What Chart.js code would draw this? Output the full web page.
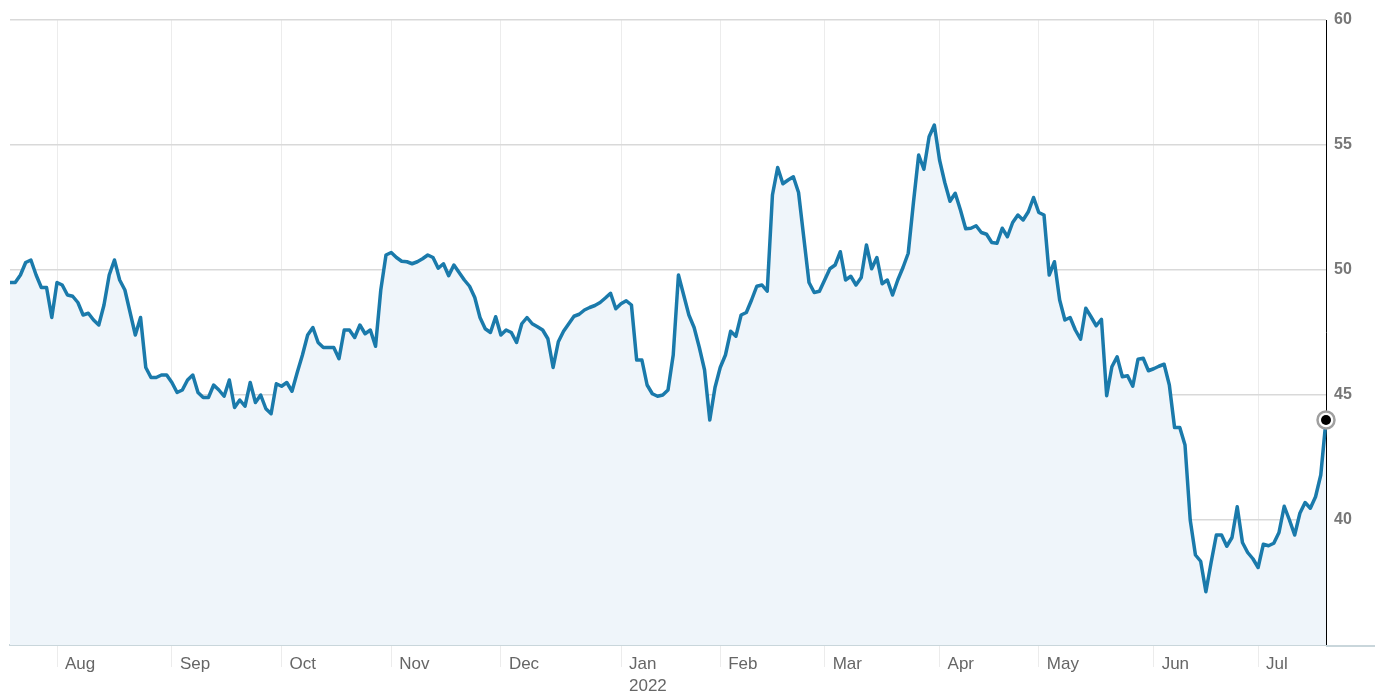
<!DOCTYPE html>
<html lang="en">
<head>
<meta charset="UTF-8">
<title>Price chart</title>
<script src="https://cdn.jsdelivr.net/npm/chart.js@4"></script>
<style>
  html, body { margin: 0; padding: 0; background: #fff; }
  #wrap { width: 1379px; height: 695px; position: relative; }
</style>
</head>
<body>
<div id="wrap"><canvas id="priceChart"></canvas></div>
<script>
// daily closes, Jul 20 2021 .. Jul 20 2022 (one per trading day)
const closes = [
  49.5, 49.5, 49.8, 50.3, 50.4, 49.8, 49.3, 49.3, 48.1, 49.5,
  49.4, 49.0, 48.95, 48.7, 48.2, 48.27, 48.0, 47.8, 48.6, 49.8,
  50.4, 49.6, 49.2, 48.3, 47.4, 48.1, 46.1, 45.7, 45.7, 45.8,
  45.8, 45.5, 45.1, 45.2, 45.6, 45.8, 45.1, 44.9, 44.9, 45.4,
  45.2, 44.95, 45.6, 44.5, 44.8, 44.55, 45.5, 44.7, 45.0, 44.45,
  44.25, 45.45, 45.35, 45.5, 45.15, 45.9, 46.6, 47.4, 47.7, 47.1,
  46.9, 46.9, 46.9, 46.45, 47.6, 47.6, 47.3, 47.8, 47.45, 47.6,
  46.95, 49.2, 50.6, 50.7, 50.5, 50.35, 50.33, 50.25, 50.33, 50.45,
  50.6, 50.5, 50.07, 50.25, 49.77, 50.2, 49.9, 49.6, 49.35, 48.9,
  48.1, 47.65, 47.5, 48.13, 47.4, 47.6, 47.5, 47.1, 47.85, 48.1,
  47.85, 47.73, 47.6, 47.25, 46.1, 47.13, 47.55, 47.85, 48.15, 48.23,
  48.4, 48.5, 48.58, 48.7, 48.88, 49.07, 48.45, 48.65, 48.77, 48.6,
  46.4, 46.4, 45.4, 45.05, 44.95, 45.0, 45.2, 46.6, 49.8, 49.0,
  48.2, 47.7, 46.9, 46.0, 44.0, 45.3, 46.1, 46.6, 47.55, 47.35,
  48.2, 48.3, 48.8, 49.35, 49.4, 49.15, 53.0, 54.1, 53.45, 53.6,
  53.73, 53.1, 51.3, 49.5, 49.1, 49.15, 49.6, 50.05, 50.2, 50.73,
  49.6, 49.75, 49.4, 49.7, 51.0, 50.05, 50.5, 49.45, 49.6, 49.0,
  49.6, 50.1, 50.67, 52.7, 54.6, 54.03, 55.33, 55.8, 54.4, 53.5,
  52.75, 53.07, 52.4, 51.65, 51.67, 51.77, 51.5, 51.43, 51.1, 51.07,
  51.67, 51.33, 51.9, 52.2, 52.0, 52.33, 52.9, 52.3, 52.2, 49.8,
  50.33, 48.8, 48.0, 48.1, 47.6, 47.23, 48.47, 48.13, 47.77, 48.03,
  44.97, 46.13, 46.53, 45.73, 45.77, 45.35, 46.43, 46.47, 45.97, 46.05,
  46.15, 46.23, 45.4, 43.7, 43.7, 43.0, 40.0, 38.6, 38.35, 37.13,
  38.3, 39.4, 39.4, 38.95, 39.3, 40.53, 39.1, 38.7, 38.45, 38.1,
  39.03, 38.97, 39.07, 39.5, 40.55, 40.0, 39.4, 40.27, 40.7, 40.47,
  40.93, 41.8, 44.0
]

// index of first trading day of each month
const monthStarts = [9, 31, 52, 73, 94, 117, 136, 156, 178, 197, 219, 239]
const monthLabels = ["Aug", "Sep", "Oct", "Nov", "Dec", ["Jan", "2022"], "Feb", "Mar", "Apr", "May", "Jun", "Jul"]

const yTicks = [40, 45, 50, 55, 60]
const yMin = 35
const yMax = 60

const lineColor = "#1a7aab"
const fillColor = "#eff5fa"
const labelFont = "'Liberation Sans Narrow', 'Arial Narrow', 'Liberation Sans', Arial, sans-serif"

// ring marker on the last close + axis line running past the right axis
const lastPointPlugin = {
  id: "lastPoint",
  afterDatasetsDraw(chart) {
    const meta = chart.getDatasetMeta(0)
    const pt = meta.data[meta.data.length - 1]
    const ctx = chart.ctx
    ctx.save()
    ctx.beginPath()
    ctx.arc(pt.x, pt.y, 8.5, 0, Math.PI * 2)
    ctx.fillStyle = "#fff"
    ctx.fill()
    ctx.lineWidth = 2.5
    ctx.strokeStyle = "#a0a0a0"
    ctx.stroke()
    ctx.beginPath()
    ctx.arc(pt.x, pt.y, 5, 0, Math.PI * 2)
    ctx.fillStyle = "#000"
    ctx.fill()
    ctx.restore()
  },
  afterDraw(chart) {
    const { ctx, chartArea } = chart
    ctx.save()
    ctx.strokeStyle = "#c9d6db"
    ctx.lineWidth = 2
    ctx.beginPath()
    ctx.moveTo(chartArea.right, chartArea.bottom + 1)
    ctx.lineTo(chart.width - 4, chartArea.bottom + 1)
    ctx.stroke()
    ctx.restore()
  },
}

const ctx = document.getElementById("priceChart").getContext("2d")
const priceChart = new Chart(ctx, {
  type: "line",
  data: {
    datasets: [
      {
        data: closes.map((v, i) => ({ x: i, y: v })),
        borderColor: lineColor,
        borderWidth: 3.5,
        backgroundColor: fillColor,
        fill: "start",
        tension: 0,
        pointRadius: 0,
        borderJoinStyle: "round",
        clip: false,
      },
    ],
  },
  options: {
    responsive: true,
    maintainAspectRatio: false,
    animation: false,
    layout: { padding: { left: 10, top: 20, right: 0, bottom: 0 } },
    plugins: {
      legend: { display: false },
      tooltip: { enabled: false },
    },
    scales: {
      x: {
        type: "linear",
        min: 0,
        max: closes.length - 1,
        afterBuildTicks: (scale) => {
          scale.ticks = monthStarts.map((v) => ({ value: v }))
        },
        afterFit: (scale) => {
          scale.height = 50
        },
        grid: {
          color: "#ececec",
          lineWidth: 1,
          drawTicks: true,
          tickLength: 22,
          tickColor: "#ececec",
        },
        border: { color: "#c9d6db", width: 2 },
        ticks: {
          autoSkip: false,
          maxRotation: 0,
          align: "start",
          labelOffset: 8,
          padding: -13,
          color: "#666",
          font: { family: labelFont, size: 17, lineHeight: 1.25 },
          callback: (value) => {
            const k = monthStarts.indexOf(value)
            return k >= 0 ? monthLabels[k] : ""
          },
        },
      },
      y: {
        position: "right",
        min: yMin,
        max: yMax,
        afterBuildTicks: (scale) => {
          scale.ticks = [yMin].concat(yTicks).map((v) => ({ value: v }))
        },
        afterFit: (scale) => {
          scale.width = 53
        },
        grid: {
          color: "#d9d9d9",
          lineWidth: 1.5,
          drawTicks: false,
        },
        border: { color: "#000", width: 1 },
        ticks: {
          padding: 8,
          color: "#777",
          font: { family: labelFont, size: 16, weight: "bold" },
          callback: (value) => (value === yMin ? "" : String(value)),
        },
      },
    },
  },
  plugins: [lastPointPlugin],
})
</script>
</body>
</html>
